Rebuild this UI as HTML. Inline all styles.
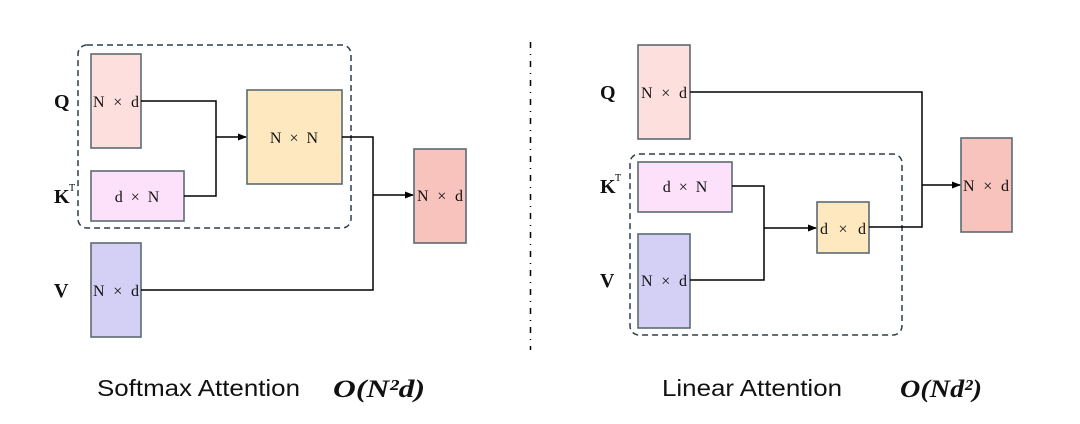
<!DOCTYPE html>
<html><head><meta charset="utf-8"><style>
html,body{margin:0;padding:0;background:#fff;}
svg{display:block;}
.b{stroke:#5c6b73;stroke-width:1.6;}
.t{font-family:"Liberation Serif",serif;font-size:16px;fill:#111;word-spacing:4px;}
.l{font-family:"Liberation Serif",serif;font-size:20px;font-weight:bold;fill:#111;}
.c{font-family:"Liberation Sans",sans-serif;font-size:23px;fill:#111;}
.m{font-family:"Liberation Serif",serif;font-size:25px;font-weight:bold;font-style:italic;fill:#111;}
.w{fill:none;stroke:#000;stroke-width:1.5;}
</style></head><body>
<svg width="1080" height="424" viewBox="0 0 1080 424">
<defs><marker id="a" markerWidth="9" markerHeight="8" refX="8" refY="4" orient="auto" markerUnits="userSpaceOnUse"><path d="M0,0.5 L9,4 L0,7.5z" fill="#000"/></marker></defs>
<!-- left -->
<rect x="78" y="45" width="273" height="183" rx="9" fill="none" stroke="#2c3e4a" stroke-width="1.5" stroke-dasharray="6,4"/>
<rect class="b" x="91" y="54" width="50" height="94" fill="#fde0de"/>
<rect class="b" x="91" y="171" width="93" height="50" fill="#fde1fb"/>
<rect class="b" x="247" y="90" width="95" height="94" fill="#fde8c0"/>
<rect class="b" x="91" y="243" width="50" height="94" fill="#d3cff5"/>
<rect class="b" x="414" y="149" width="52" height="94" fill="#f8c3bc"/>
<polyline class="w" points="141,101 216,101 216,196 184,196"/>
<line class="w" x1="216" y1="137" x2="246" y2="137" marker-end="url(#a)"/>
<polyline class="w" points="342,137 373,137 373,290 141,290"/>
<line class="w" x1="373" y1="195" x2="413" y2="195" marker-end="url(#a)"/>
<text class="t" x="116" y="107" text-anchor="middle" textLength="46">N × d</text>
<text class="t" x="137" y="202" text-anchor="middle">d × N</text>
<text class="t" x="294" y="143" text-anchor="middle">N × N</text>
<text class="t" x="116" y="296" text-anchor="middle" textLength="46">N × d</text>
<text class="t" x="440" y="201" text-anchor="middle" textLength="46">N × d</text>
<text class="l" x="54" y="108">Q</text>
<text class="l" x="54" y="203">K</text><text x="69" y="191" style="font-family:'Liberation Serif',serif;font-size:10px;">T</text>
<text class="l" x="54" y="297">V</text>
<text class="c" x="97" y="396" textLength="203" lengthAdjust="spacingAndGlyphs">Softmax Attention</text>
<text class="m" x="333" y="397" textLength="92" lengthAdjust="spacingAndGlyphs">O(N²d)</text>
<!-- divider -->
<line x1="530.5" y1="42" x2="530.5" y2="350" stroke="#000" stroke-width="1.5" stroke-dasharray="6,6,1,6"/>
<!-- right -->
<rect x="630" y="154" width="272" height="181" rx="9" fill="none" stroke="#2c3e4a" stroke-width="1.5" stroke-dasharray="6,4"/>
<rect class="b" x="638" y="45" width="52" height="94" fill="#fde0de"/>
<rect class="b" x="638" y="162" width="94" height="50" fill="#fde1fb"/>
<rect class="b" x="638" y="234" width="52" height="94" fill="#d3cff5"/>
<rect class="b" x="817" y="202" width="52" height="51" fill="#fde8c0"/>
<rect class="b" x="961" y="138" width="51" height="94" fill="#f8c3bc"/>
<polyline class="w" points="690,92 922,92 922,227 869,227"/>
<polyline class="w" points="732,186 764,186 764,280 690,280"/>
<line class="w" x1="764" y1="228" x2="816" y2="228" marker-end="url(#a)"/>
<line class="w" x1="922" y1="185" x2="960" y2="185" marker-end="url(#a)"/>
<text class="t" x="664" y="98" text-anchor="middle" textLength="46">N × d</text>
<text class="t" x="685" y="192" text-anchor="middle">d × N</text>
<text class="t" x="664" y="286" text-anchor="middle" textLength="46">N × d</text>
<text class="t" x="843" y="234" text-anchor="middle" textLength="46">d × d</text>
<text class="t" x="986" y="191" text-anchor="middle" textLength="46">N × d</text>
<text class="l" x="600" y="99">Q</text>
<text class="l" x="600" y="193">K</text><text x="615" y="181" style="font-family:'Liberation Serif',serif;font-size:10px;">T</text>
<text class="l" x="600" y="287">V</text>
<text class="c" x="662" y="396" textLength="180" lengthAdjust="spacingAndGlyphs">Linear Attention</text>
<text class="m" x="900" y="397" textLength="82" lengthAdjust="spacingAndGlyphs">O(Nd²)</text>
</svg>
</body></html>
